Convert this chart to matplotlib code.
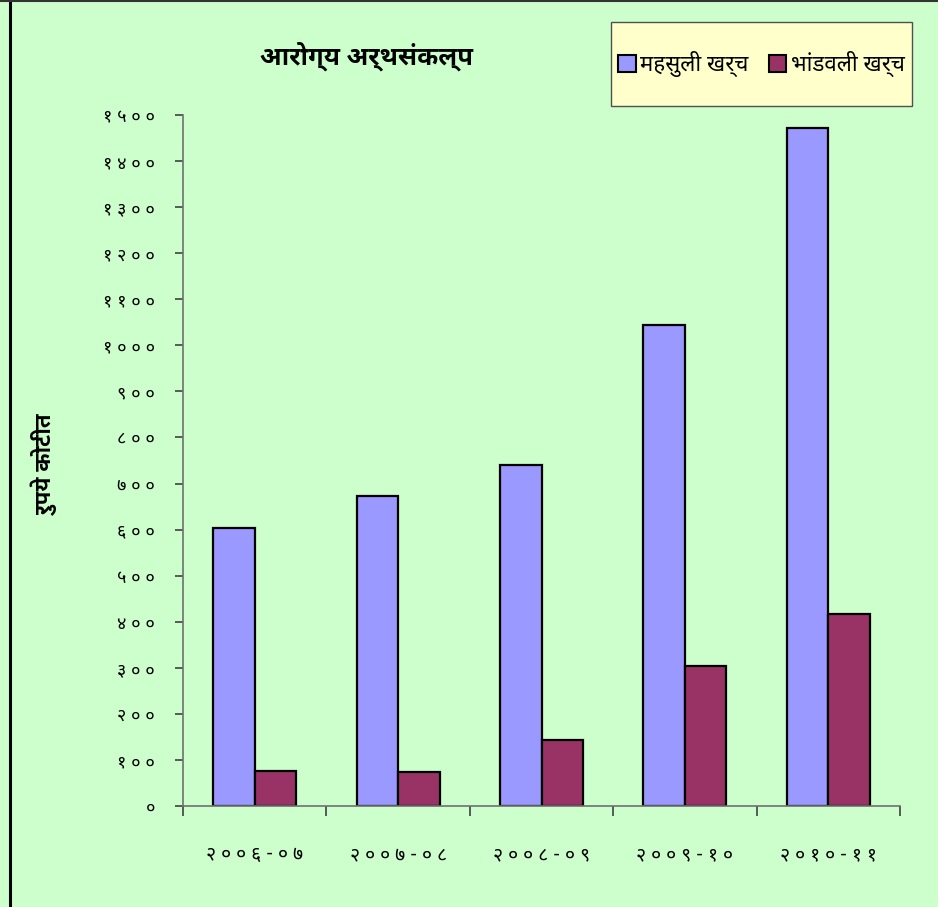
import matplotlib
matplotlib.use("Agg")
import matplotlib.pyplot as plt
from matplotlib import font_manager
from matplotlib.patches import Patch, Rectangle
from matplotlib.lines import Line2D

# ---- data ----
categories = ["२००६-०७", "२००७-०८", "२००८-०९", "२००९-१०", "२०१०-११"]
revenue = [603, 673, 740, 1044, 1472]      # महसुली खर्च
capital = [76, 74, 143, 304, 417]          # भांडवली खर्च
series_names = ["महसुली खर्च", "भांडवली खर्च"]
y_ticks = list(range(0, 1501, 100))
title = "आरोग्य अर्थसंकल्प"
ylabel = "रुपये कोटीत"

DEV_DIGITS = "०१२३४५६७८९"


def to_dev(n):
    return "".join(DEV_DIGITS[int(c)] for c in str(n))


def spaced(s):
    return " ".join(s)


fonts = font_manager.fontManager.ttflist
installed = {f.name for f in fonts}
bold_ok = {f.name for f in fonts if (isinstance(f.weight, int) and f.weight >= 600) or str(f.weight) in ("bold", "heavy", "black")}
cands = ["Noto Sans Devanagari", "Noto Sans Devanagari UI", "Mukta", "Hind", "Lohit Devanagari"]
dev_family = next((c for c in cands if c in installed), None)
dev_bold = next((c for c in cands if c in bold_ok), dev_family)
families = ([dev_family] if dev_family else []) + ["DejaVu Sans"]
bold_families = ([dev_bold] if dev_bold else []) + ["DejaVu Sans"]
plt.rcParams["font.family"] = families

BG = "#CCFFCC"
BLUE = "#9999FF"
RED = "#993366"

fig = plt.figure(figsize=(9.38, 9.07), dpi=100, facecolor=BG)
ax = fig.add_axes([0.1951, 0.1114, 0.7644, 0.7618])
ax.set_facecolor(BG)

n = len(categories)
x = list(range(n))
w = 0.29
ax.bar([i - w / 2 for i in x], revenue, width=w, color=BLUE, edgecolor="black", linewidth=1.6)
ax.bar([i + w / 2 for i in x], capital, width=w, color=RED, edgecolor="black", linewidth=1.6)

ax.set_xlim(-0.5, n - 0.5)
ax.set_ylim(0, 1500)
for s in ["top", "right"]:
    ax.spines[s].set_visible(False)
for s in ["left", "bottom"]:
    ax.spines[s].set_color("#707070")
    ax.spines[s].set_linewidth(1.2)

ax.set_yticks(y_ticks)
ax.set_yticklabels([spaced(to_dev(v)) for v in y_ticks], fontsize=13)
ax.tick_params(axis="y", length=6, width=1.2, color="#404040", pad=14)

ax.set_xticks([i - 0.5 for i in range(n + 1)])
ax.set_xticklabels([])
ax.tick_params(axis="x", which="major", length=7, width=1.2, color="#404040", direction="out")
ax.set_xticks(x, minor=True)
ax.set_xticklabels([spaced(c) for c in categories], minor=True, fontsize=14)
ax.tick_params(axis="x", which="minor", length=0, pad=28)

fig.text(0.391, 0.938, title, fontsize=18.5, fontweight="bold", family=bold_families,
         ha="center", va="center")
fig.text(0.048, 0.488, ylabel, fontsize=16, fontweight="bold", family=bold_families,
         rotation=90, ha="center", va="center")

# legend box
fig.add_artist(Rectangle((0.6514, 0.8831), 0.3209, 0.0926, transform=fig.transFigure,
                         facecolor="#FFFFCC", edgecolor="#505050", linewidth=1.0, zorder=5))
handles = [Patch(facecolor=BLUE, edgecolor="black", linewidth=1.5),
           Patch(facecolor=RED, edgecolor="black", linewidth=1.5)]
leg = fig.legend(handles, series_names, loc="center", bbox_to_anchor=(0.8118, 0.9294),
                 ncol=2, fontsize=16, frameon=False,
                 handlelength=0.8, handleheight=0.8, handletextpad=0.2, columnspacing=0.9,
                 borderpad=0.2, borderaxespad=0)
leg.set_zorder(6)

# left / top frame lines of the picture
fig.add_artist(Line2D([0.0105, 0.0105], [0, 1], transform=fig.transFigure, color="black", linewidth=2.2))
fig.add_artist(Line2D([0, 1], [0.999, 0.999], transform=fig.transFigure, color="#333333", linewidth=1.5))

fig.savefig("out.png", dpi=100, facecolor=BG)
